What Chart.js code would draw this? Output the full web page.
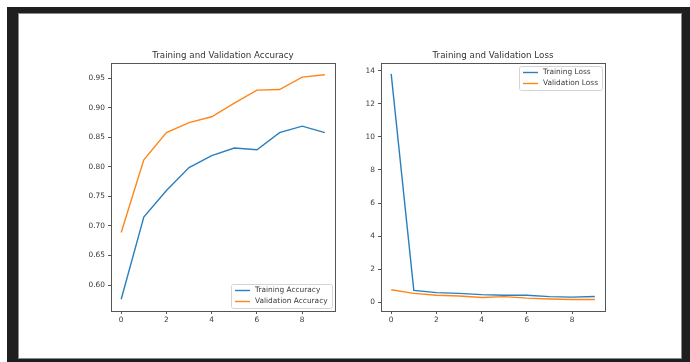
<!DOCTYPE html>
<html>
<head>
<meta charset="utf-8">
<script src="https://cdn.jsdelivr.net/npm/chart.js@4/dist/chart.umd.min.js"></script>
<style>
  html, body { margin: 0; padding: 0; background: #fff; width: 690px; height: 362px; overflow: hidden; }
  .frame { position: absolute; left: 7px; top: 7px; width: 683px; height: 355px; background: #1f1f1f; }
  .panel { position: absolute; left: 18px; top: 13px; width: 664px; height: 346px; background: #fff;
           box-sizing: border-box; border: 1px solid #8a8a8a; }
  canvas { position: absolute; left: 0; top: 0; }
</style>
</head>
<body>
<div class="frame"></div>
<div class="panel"></div>
<canvas id="acc" width="690" height="362"></canvas>
<canvas id="loss" width="690" height="362"></canvas>
<script>
// Epochs and per-epoch metrics
const epochs = [0, 1, 2, 3, 4, 5, 6, 7, 8, 9];
const trainAcc = [0.576, 0.715, 0.760, 0.799, 0.819, 0.832, 0.829, 0.858, 0.869, 0.858];
const valAcc   = [0.689, 0.812, 0.858, 0.875, 0.885, 0.908, 0.930, 0.931, 0.952, 0.956];
const trainLoss = [13.82, 0.71, 0.57, 0.53, 0.45, 0.41, 0.41, 0.33, 0.30, 0.34];
const valLoss   = [0.75, 0.53, 0.41, 0.37, 0.28, 0.33, 0.24, 0.19, 0.16, 0.16];

// Tick values
const epochTicks = [0, 2, 4, 6, 8];
const accTicks = [0.60, 0.65, 0.70, 0.75, 0.80, 0.85, 0.90, 0.95];
const lossTicks = [0, 2, 4, 6, 8, 10, 12, 14];

const BLUE = '#2a7fbc';
const ORANGE = '#ff8518';
const FONT = '"DejaVu Sans", "Liberation Sans", sans-serif';
const AXIS_COLOR = '#555';
const TEXT_COLOR = '#3a3a3a';

const pts = (ys) => epochs.map((x, i) => ({ x, y: ys[i] }));

// Box frame, title and legend drawn on top of the chart area
const framePlugin = {
  id: 'frameTitleLegend',
  afterDraw(chart, args, opts) {
    const { ctx, chartArea: a } = chart;
    ctx.save();
    ctx.strokeStyle = AXIS_COLOR;
    ctx.lineWidth = 1;
    ctx.strokeRect(Math.round(a.left) + 0.5, Math.round(a.top) + 0.5,
                   Math.round(a.right - a.left), Math.round(a.bottom - a.top));

    // title
    ctx.fillStyle = '#333';
    ctx.font = '8.7px ' + FONT;
    ctx.textAlign = 'center';
    ctx.textBaseline = 'middle';
    ctx.fillText(opts.title, (a.left + a.right) / 2, a.top - 7);

    // legend
    ctx.font = '7.4px ' + FONT;
    const items = chart.data.datasets.map(d => ({ label: d.label, color: d.borderColor }));
    const tw = Math.max(...items.map(it => ctx.measureText(it.label).width));
    const w = Math.round(tw + 28), h = 24, inset = 3;
    const x = Math.round(a.right - inset - w);
    const y = opts.legendAt === 'bottom' ? Math.round(a.bottom - inset - h) : Math.round(a.top + inset);
    ctx.beginPath();
    ctx.roundRect(x + 0.5, y + 0.5, w, h, 2);
    ctx.fillStyle = 'rgba(255,255,255,0.85)';
    ctx.fill();
    ctx.strokeStyle = '#d4d4d4';
    ctx.stroke();
    ctx.textAlign = 'left';
    items.forEach((it, i) => {
      const ly = y + 6.5 + i * 11;
      ctx.beginPath();
      ctx.moveTo(x + 4, ly);
      ctx.lineTo(x + 19, ly);
      ctx.strokeStyle = it.color;
      ctx.lineWidth = 1.4;
      ctx.stroke();
      ctx.fillStyle = TEXT_COLOR;
      ctx.fillText(it.label, x + 24, ly);
    });
    ctx.restore();
  }
};

function makeChart(id, cfg) {
  return new Chart(document.getElementById(id), {
    type: 'line',
    data: {
      datasets: [
        { label: cfg.labels[0], data: pts(cfg.series[0]), borderColor: BLUE, borderWidth: 1.4,
          pointRadius: 0, tension: 0, fill: false },
        { label: cfg.labels[1], data: pts(cfg.series[1]), borderColor: ORANGE, borderWidth: 1.4,
          pointRadius: 0, tension: 0, fill: false }
      ]
    },
    options: {
      responsive: false,
      animation: false,
      events: [],
      layout: { padding: cfg.padding },
      plugins: {
        legend: { display: false },
        tooltip: { enabled: false },
        frameTitleLegend: { title: cfg.title, legendAt: cfg.legendAt }
      },
      scales: {
        x: {
          type: 'linear', min: -0.45, max: 9.45,
          afterFit: s => { s.height = 25; },
          afterBuildTicks: s => { s.ticks = epochTicks.map(v => ({ value: v })); },
          grid: { drawOnChartArea: false, drawTicks: true, tickLength: 3, color: AXIS_COLOR },
          border: { display: true, color: AXIS_COLOR, width: 1 },
          ticks: { padding: 2, color: TEXT_COLOR, font: { family: FONT, size: 7.4 },
                   maxRotation: 0, autoSkip: false, callback: v => String(v) }
        },
        y: {
          type: 'linear', min: cfg.yMin, max: cfg.yMax,
          afterFit: s => { s.width = 40; },
          afterBuildTicks: s => { s.ticks = cfg.yTicks.map(v => ({ value: v })); },
          grid: { drawOnChartArea: false, drawTicks: true, tickLength: 3, color: AXIS_COLOR },
          border: { display: true, color: AXIS_COLOR, width: 1 },
          ticks: { padding: 3, color: TEXT_COLOR, font: { family: FONT, size: 7.4 },
                   autoSkip: false, callback: cfg.fmt }
        }
      }
    },
    plugins: [framePlugin]
  });
}

makeChart('acc', {
  title: 'Training and Validation Accuracy',
  labels: ['Training Accuracy', 'Validation Accuracy'],
  series: [trainAcc, valAcc],
  yMin: 0.556, yMax: 0.976, yTicks: accTicks,
  fmt: v => Number(v).toFixed(2),
  legendAt: 'bottom',
  padding: { left: 111 - 40, top: 63, right: 690 - 335, bottom: 362 - 311 - 25 }
});

makeChart('loss', {
  title: 'Training and Validation Loss',
  labels: ['Training Loss', 'Validation Loss'],
  series: [trainLoss, valLoss],
  yMin: -0.54, yMax: 14.48, yTicks: lossTicks,
  fmt: v => String(v),
  legendAt: 'top',
  padding: { left: 381 - 40, top: 63, right: 690 - 605, bottom: 362 - 311 - 25 }
});
</script>
</body>
</html>
